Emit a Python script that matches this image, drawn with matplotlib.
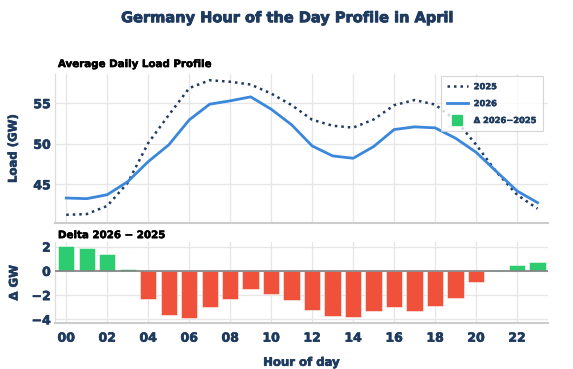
import matplotlib
matplotlib.use("Agg")
import matplotlib.pyplot as plt
from matplotlib.lines import Line2D
import matplotlib.patheffects as pe

hours = list(range(24))
load_2026 = [43.31, 43.23, 43.72, 45.33, 47.80, 49.86, 52.94, 54.88, 55.29, 55.78, 54.26, 52.33,
             49.73, 48.50, 48.21, 49.65, 51.75, 52.08, 51.96, 50.68, 48.95, 46.56, 44.18, 42.74]
delta = [2.07, 1.90, 1.38, 0.14, -2.29, -3.67, -3.92, -2.95, -2.35, -1.52, -1.93, -2.43,
         -3.23, -3.72, -3.78, -3.34, -3.00, -3.31, -2.87, -2.24, -0.94, 0.06, 0.47, 0.74]
load_2025 = [41.24, 41.33, 42.34, 45.19, 50.09, 53.53, 56.86, 57.83, 57.64, 57.30, 56.19, 54.76,
             52.96, 52.22, 51.99, 52.99, 54.75, 55.39, 54.83, 52.92, 49.89, 46.50, 43.71, 42.00]
xtick_vals = list(range(0, 24, 2))
xtick_labels = [f"{h:02d}" for h in xtick_vals]

NAVY = "#1e3a5f"
BLUE = "#3a87dc"
GREEN = "#2ecc71"
RED = "#f0513a"
GRID = "#e6e6e6"
plt.rcParams['font.family'] = ["DejaVu Sans"]
W = 'bold'


def heavy(color, lw=0.45):
    return [pe.withStroke(linewidth=lw, foreground=color)]


fig = plt.figure(figsize=(5.73, 3.69), dpi=100)
ax1 = fig.add_axes([0.096, 0.395, 0.860, 0.4045])
ax2 = fig.add_axes([0.096, 0.1238, 0.860, 0.2196], sharex=ax1)

ax1.plot(hours, load_2025, linestyle=(0, (1, 1.6)), color=NAVY, lw=1.8, label="2025")
ax1.plot(hours, load_2026, color=BLUE, lw=2.0, label="2026")
ax1.set_ylim(40.2, 58.6)
ax1.set_yticks([45, 50, 55])
ax1.set_xlim(-0.55, 23.5)

colors = [GREEN if d >= 0 else RED for d in delta]
ax2.bar(hours, delta, width=0.8, color=colors, edgecolor="#ffffff99", lw=0.6, zorder=3)
ax2.axhline(0, color="#808080", lw=1.2, zorder=4)
ax2.set_ylim(-4.33, 2.36)
ax2.set_yticks([-4, -2, 0, 2])
ax2.set_yticklabels(["\u22124", "\u22122", "0", "2"])
ax2.set_xticks(xtick_vals)
ax2.set_xticklabels(xtick_labels)

for ax in (ax1, ax2):
    ax.grid(True, color=GRID, lw=0.9, zorder=0)
    ax.set_axisbelow(True)
    for s in ("top", "right"):
        ax.spines[s].set_visible(False)
    ax.spines["left"].set_color("#dddddd")
    ax.spines["left"].set_linewidth(0.9)
    ax.spines["bottom"].set_color("#cccccc")
    ax.spines["bottom"].set_linewidth(1.5)
    ax.tick_params(axis="both", length=0, colors=NAVY, labelsize=9, pad=3)
    for lab in ax.get_yticklabels() + ax.get_xticklabels():
        lab.set_fontweight(W)
        lab.set_path_effects(heavy(NAVY))
ax1.tick_params(axis="x", labelbottom=False)
ax2.tick_params(axis="x", pad=6)

for ax, txt, lp in ((ax1, "Load (GW)", 10), (ax2, "\u0394 GW", 8)):
    ax.set_ylabel(txt, color=NAVY, fontsize=8.4, fontweight=W, labelpad=lp,
                  path_effects=heavy(NAVY))
ax2.set_xlabel("Hour of day", color=NAVY, fontsize=8.4, fontweight=W, labelpad=8,
               path_effects=heavy(NAVY))
fig.align_ylabels([ax1, ax2])

ax1.set_title("Average Daily Load Profile", loc="left", fontsize=7.4, fontweight=W, color="black",
              pad=5, x=0.006, path_effects=heavy("black", 0.4))
ax2.set_title("Delta 2026 \u2212 2025", loc="left", fontsize=7.4, fontweight=W, color="black",
              pad=3, x=0.006, path_effects=heavy("black", 0.4))

fig.text(0.503, 0.952, "Germany Hour of the Day Profile in April", ha="center", va="center",
         fontsize=10.5, fontweight=W, color=NAVY, path_effects=heavy(NAVY, 0.6))

handles = [Line2D([], [], linestyle=(0, (1, 1.6)), color=NAVY, lw=1.8),
           Line2D([], [], color=BLUE, lw=2.0),
           Line2D([], [], marker="s", color=GREEN, linestyle="none", markersize=7)]
leg = ax1.legend(handles, ["2025", "2026", "\u0394 2026\u22122025"], loc="upper right",
                 bbox_to_anchor=(0.9905, 0.987), borderaxespad=0, fontsize=6, frameon=True,
                 fancybox=False, edgecolor="#cccccc", handlelength=2.5, handletextpad=0.7,
                 borderpad=0.75, labelspacing=0.95)
leg.get_frame().set_linewidth(0.8)
for t in leg.get_texts():
    t.set_color(NAVY)
    t.set_fontweight(W)
    t.set_path_effects(heavy(NAVY, 0.35))

fig.savefig("out.png", dpi=100, facecolor="white")
